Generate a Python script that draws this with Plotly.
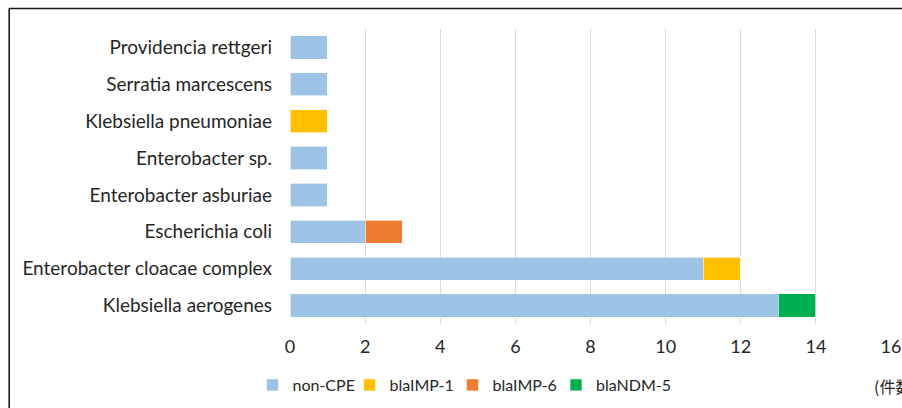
import plotly.graph_objects as go

categories = ["Klebsiella aerogenes", "Enterobacter cloacae complex", "Escherichia coli",
              "Enterobacter asburiae", "Enterobacter sp.", "Klebsiella pneumoniae",
              "Serratia marcescens", "Providencia rettgeri"]
non_cpe = [13, 11, 2, 1, 1, 0, 1, 1]
bla_imp1 = [0, 1, 0, 0, 0, 1, 0, 0]
bla_imp6 = [0, 0, 1, 0, 0, 0, 0, 0]
bla_ndm5 = [1, 0, 0, 0, 0, 0, 0, 0]
x_ticks = [0, 2, 4, 6, 8, 10, 12, 14, 16]
unit_label = "(件数)"

series_names = ["non-CPE", "blaIMP-1", "blaIMP-6", "blaNDM-5"]
series_values = [non_cpe, bla_imp1, bla_imp6, bla_ndm5]
series_colors = ["#9DC3E6", "#FFC000", "#ED7D31", "#00B050"]

FONT = "Lato, 'Open Sans', sans-serif"

W, H = 902, 408
L, R, T, B = 290, 11, 29, 84
pw = W - L - R
ph = H - T - B

def px_x(p):
    return (p - L) / pw

def px_y(p):
    return 1 - (p - T) / ph

# one legend per series so each entry sits where the reference puts it
legend_left_px = [252.5, 349.5, 452.5, 556]
legend_ids = ["legend", "legend2", "legend3", "legend4"]

fig = go.Figure()
for name, vals, col, lid in zip(series_names, series_values, series_colors, legend_ids):
    fig.add_trace(go.Bar(
        y=categories, x=vals, name=name, orientation="h", legend=lid,
        marker=dict(color=col, line=dict(color="white", width=0.6)),
    ))

legend_layout = {}
for lid, lx in zip(legend_ids, legend_left_px):
    legend_layout[lid] = dict(orientation="h", x=px_x(lx), y=px_y(368),
                              xanchor="left", yanchor="top",
                              font=dict(family=FONT, size=16, color="#262626"),
                              itemwidth=30, bgcolor="rgba(0,0,0,0)")

fig.update_layout(
    width=W, height=H,
    margin=dict(l=L, r=R, t=T, b=B, autoexpand=False),
    barmode="stack", bargap=0.37,
    plot_bgcolor="white", paper_bgcolor="white",
    font=dict(family=FONT, size=18, color="#262626"),
    showlegend=True,
    xaxis=dict(range=[0, 16], tickvals=x_ticks, showgrid=True, gridcolor="#D9D9D9",
               gridwidth=1, zeroline=False, showline=False, ticks="",
               ticklabelstandoff=10, tickfont=dict(size=18, color="#262626"),
               fixedrange=True),
    yaxis=dict(categoryorder="array", categoryarray=categories, showgrid=False,
               showline=False, ticks="", ticklabelstandoff=17,
               tickfont=dict(size=19, color="#262626"), fixedrange=True),
    shapes=[
        dict(type="line", xref="paper", yref="paper", x0=px_x(9), x1=px_x(960),
             y0=px_y(8.5), y1=px_y(8.5), line=dict(color="#1a1a1a", width=1.6)),
        dict(type="line", xref="paper", yref="paper", x0=px_x(9.2), x1=px_x(9.2),
             y0=px_y(8.5), y1=px_y(450), line=dict(color="#1a1a1a", width=1.6)),
    ],
    annotations=[
        dict(text=unit_label, xref="paper", yref="paper", x=px_x(872), y=px_y(386),
             xanchor="left", yanchor="middle", showarrow=False,
             font=dict(family="'Noto Sans CJK JP', sans-serif", size=16, color="#262626")),
    ],
    **legend_layout,
)

fig.write_html("out.html", config={"displayModeBar": False},
               post_script="document.body.style.margin='0';document.body.style.overflow='hidden';")
